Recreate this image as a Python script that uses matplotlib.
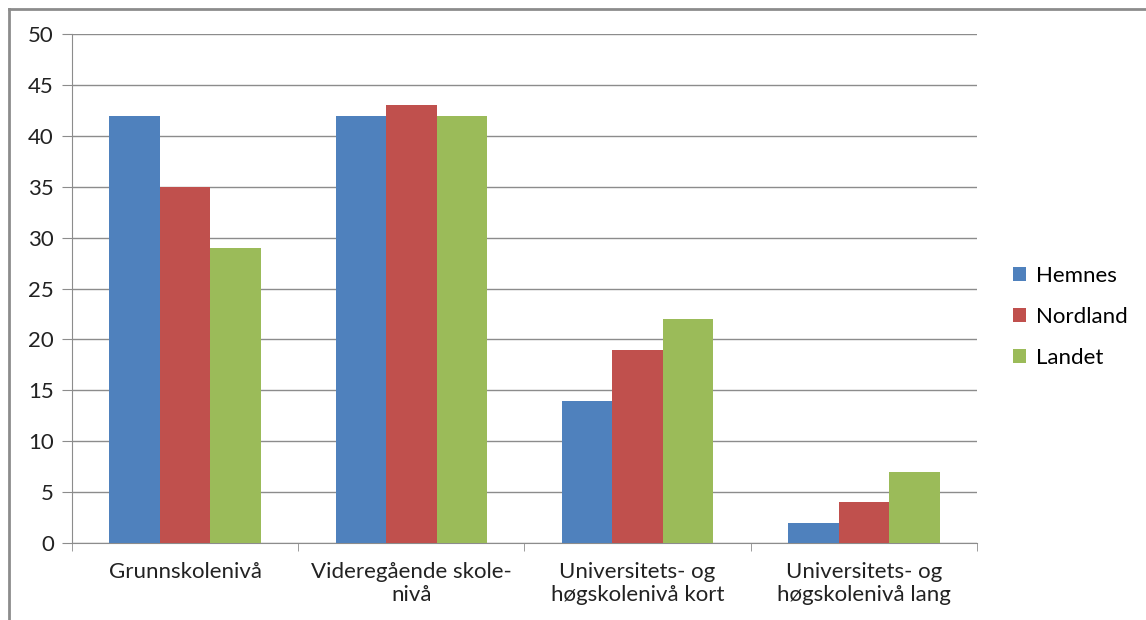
import matplotlib.pyplot as plt
import numpy as np
from matplotlib.lines import Line2D

categories = ["Grunnskolenivå", "Videregående skole-\nnivå",
              "Universitets- og\nhøgskolenivå kort", "Universitets- og\nhøgskolenivå lang"]
series = ["Hemnes", "Nordland", "Landet"]
hemnes = [42, 42, 14, 2]
nordland = [35, 43, 19, 4]
landet = [29, 42, 22, 7]
colors = ["#4F81BD", "#C0504D", "#9BBB59"]

plt.rcParams['font.family'] = ['Lato', 'DejaVu Sans']

fig = plt.figure(figsize=(11.46, 6.2), dpi=100)
ax = fig.add_axes([0.0628, 0.1242, 0.7897, 0.8208])

x = np.arange(len(categories))
w = 0.223
for i, (name, vals) in enumerate(zip(series, [hemnes, nordland, landet])):
    ax.bar(x + (i - 1) * w, vals, w, color=colors[i], label=name, zorder=3)

ax.set_xlim(-0.5, len(categories) - 0.5)
ax.set_ylim(0, 50)
ax.set_yticks(range(0, 51, 5))
ax.yaxis.grid(True, color="#8c8c8c", linewidth=1, zorder=0)
ax.set_xticks(x)
ax.set_xticklabels(categories, fontsize=16, color="#222222", linespacing=1.15)
ax.set_xticks(np.arange(-0.5, len(categories)), minor=True)
ax.tick_params(axis='x', which='major', length=0, pad=14)
ax.tick_params(axis='x', which='minor', length=6, color="#8c8c8c")
ax.tick_params(axis='y', length=7, color="#8c8c8c", labelsize=16, labelcolor="#222222", pad=6)
for s in ['top', 'right']:
    ax.spines[s].set_visible(False)
for s in ['left', 'bottom']:
    ax.spines[s].set_color("#8c8c8c")

ax.legend(loc='center left', bbox_to_anchor=(1.03, 0.444), frameon=False, fontsize=16,
          handlelength=0.6, handleheight=0.6, handletextpad=0.45, labelspacing=0.95,
          borderaxespad=0)

# outer chart border (left and top visible)
fig.add_artist(Line2D([9 / 1146, 9 / 1146], [0, 1 - 9 / 620], color="#8c8c8c", linewidth=2))
fig.add_artist(Line2D([9 / 1146, 1], [1 - 9 / 620, 1 - 9 / 620], color="#8c8c8c", linewidth=2))

fig.savefig("out.png", dpi=100)
